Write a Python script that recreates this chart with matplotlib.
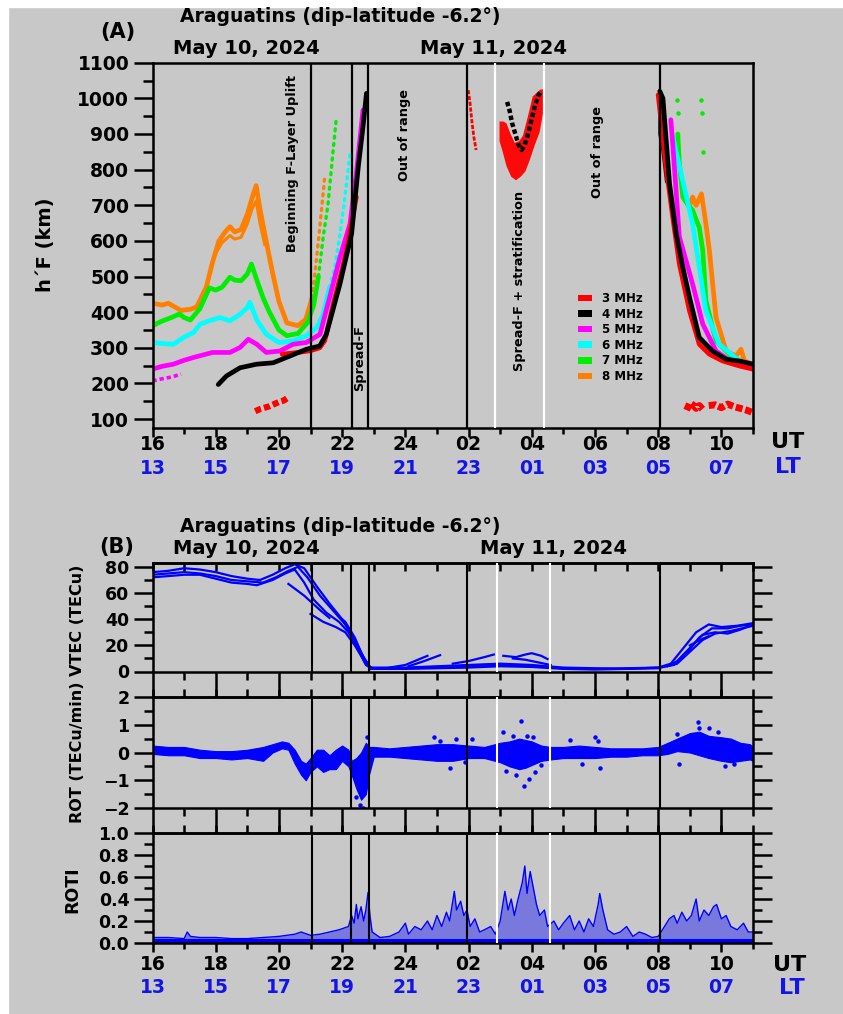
import matplotlib
matplotlib.use('Agg')
import matplotlib.pyplot as plt
from matplotlib.ticker import MultipleLocator, FixedLocator
from matplotlib.patches import Patch, Rectangle

plt.rcParams['font.family'] = ['DejaVu Sans']
plt.rcParams['font.weight'] = 'bold'
plt.rcParams['axes.labelweight'] = 'bold'

W, H = 843, 1014
BG = '#c8c8c8'
LTC = '#1414e8'

# ---------------- data: panel A (h'F, km) ----------------
freq_labels = ['3 MHz', '4 MHz', '5 MHz', '6 MHz', '7 MHz', '8 MHz']
freq_colors = ['#ff0000', '#000000', '#ff00ff', '#00ffff', '#00ee00', '#ff8000']

f8_t = [16.0, 16.3, 16.5, 16.7, 16.9, 17.2, 17.4, 17.7, 17.9, 18.1, 18.3, 18.45, 18.6, 18.8, 19.0, 19.15, 19.28, 19.4, 19.55, 19.8, 20.0, 20.25, 20.6, 20.85, 21.05]
f8_v = [425, 420, 425, 415, 405, 408, 415, 470, 540, 600, 625, 640, 625, 632, 675, 720, 755, 690, 620, 510, 430, 370, 362, 380, 440]
f8b_t = [18.0, 18.2, 18.45, 18.6, 18.8, 19.0, 19.15, 19.28, 19.4, 19.55]
f8b_v = [565, 595, 615, 605, 610, 648, 690, 712, 650, 590]
f8s_t = [21.05, 21.15, 21.25, 21.35, 21.45]
f8s_v = [440, 520, 600, 690, 780]

f7_t = [16.0, 16.3, 16.6, 16.85, 17.0, 17.2, 17.5, 17.8, 18.0, 18.2, 18.45, 18.6, 18.8, 19.0, 19.13, 19.3, 19.5, 19.7, 20.0, 20.25, 20.6, 20.9, 21.1, 21.25]
f7_v = [362, 375, 385, 395, 385, 378, 410, 468, 462, 470, 498, 490, 488, 507, 535, 490, 440, 400, 350, 334, 340, 370, 420, 500]
f7s_t = [21.25, 21.4, 21.55, 21.7, 21.82]
f7s_v = [500, 610, 700, 840, 948]

f6_t = [16.0, 16.3, 16.66, 17.0, 17.3, 17.5, 17.8, 18.13, 18.45, 18.77, 19.0, 19.08, 19.3, 19.6, 20.0, 20.45, 20.87, 21.2, 21.4, 21.6]
f6_v = [315, 312, 310, 330, 343, 366, 376, 385, 376, 394, 413, 428, 378, 338, 315, 319, 334, 357, 394, 470]
f6s_t = [21.6, 21.75, 21.9, 22.05, 22.25]
f6s_v = [470, 520, 600, 695, 845]

f5_t = [16.0, 16.3, 16.66, 17.0, 17.3, 17.9, 18.45, 18.77, 19.03, 19.3, 19.6, 20.03, 20.45, 20.87, 21.3, 21.6, 21.93, 22.25, 22.45, 22.66]
f5_v = [240, 248, 254, 265, 273, 287, 287, 301, 324, 310, 287, 291, 310, 315, 338, 440, 554, 648, 789, 967]
f5b_t = [16.0, 16.3, 16.6, 16.9]
f5b_v = [207, 213, 218, 226]

f4_t = [18.08, 18.34, 18.77, 19.29, 19.82, 20.35, 20.87, 21.29, 21.5, 21.93, 22.3, 22.51, 22.66, 22.77]
f4_v = [197, 221, 244, 254, 258, 277, 296, 305, 338, 479, 620, 807, 920, 1014]

f3_t = [20.1, 20.6, 21.0, 21.29, 21.45, 21.72, 22.0, 22.14, 22.3, 22.45]
f3_v = [282, 287, 292, 300, 320, 423, 520, 573, 650, 723]
f3low_t = [19.25, 19.4, 19.55, 19.7, 19.85, 20.0, 20.15, 20.25]
f3low_v = [122, 128, 132, 136, 142, 148, 152, 158]
f3n_t = [25.99, 26.05, 26.1, 26.17, 26.24]
f3n_v = [1023, 985, 940, 890, 855]

# spread-F cloud (3 MHz outline) and 4 MHz echoes inside it
cloud_t = [26.98, 27.1, 27.2, 27.33, 27.46, 27.6, 27.72, 27.88, 28.03, 28.15, 28.28, 28.36, 28.36, 28.25, 28.1, 27.95, 27.8, 27.65, 27.5, 27.35, 27.2, 27.08, 26.98]
cloud_v = [935, 935, 930, 900, 875, 880, 895, 950, 1005, 1015, 1025, 1025, 960, 905, 870, 830, 795, 780, 770, 780, 810, 850, 880]
cloud4_t = [27.22, 27.3, 27.38, 27.48, 27.58, 27.68, 27.78, 27.9, 28.02, 28.12, 28.22, 28.3]
cloud4_v = [990, 965, 930, 900, 870, 855, 870, 905, 950, 985, 1010, 1020]

# morning (after 08 UT)
m3_t = [32.0, 32.1, 32.25, 32.46, 32.67, 32.99, 33.3, 33.62, 34.04, 34.57, 35.0]
m3_v = [1010, 930, 807, 667, 535, 404, 310, 282, 263, 249, 240]
m4_t = [32.05, 32.15, 32.36, 32.57, 32.78, 32.99, 33.3, 33.72, 34.15, 34.57, 35.0]
m4_v = [1020, 1000, 760, 620, 526, 442, 329, 291, 268, 263, 254]
m5_t = [32.4, 32.46, 32.67, 33.09, 33.41, 33.83, 34.36, 35.0]
m5_v = [940, 873, 611, 479, 367, 291, 258, 249]
m6_t = [32.46, 32.8, 33.09, 33.3, 33.51, 33.93, 34.57, 35.0]
m6_v = [892, 760, 648, 526, 404, 310, 263, 244]
m7_t = [32.62, 32.67, 32.78, 32.95, 33.09, 33.2, 33.3, 33.41, 33.51, 33.83, 34.25, 35.0]
m7_v = [900, 817, 723, 700, 686, 660, 638, 573, 432, 319, 282, 240]
m8_t = [33.0, 33.09, 33.2, 33.37, 33.51, 33.62, 33.83, 34.15, 34.46, 34.62, 34.73, 35.0]
m8_v = [700, 723, 700, 732, 648, 573, 385, 291, 277, 296, 263, 254]
msp_t = [32.0, 32.12, 32.25, 32.32, 32.22, 32.1, 32.0]
msp_v = [1020, 1020, 900, 780, 760, 850, 900]
mr1_t = [32.9, 33.0, 33.1, 33.2, 33.3, 33.4]
mr1_v = [125, 145, 140, 130, 138, 128]
mr2_t = [33.6, 33.8, 34.0, 34.2, 34.4, 34.6, 34.8, 35.0]
mr2_v = [138, 140, 132, 142, 135, 130, 125, 118]
gdot_t = [32.6, 32.62, 33.37, 33.38, 33.42]
gdot_v = [995, 960, 995, 960, 850]

eventsA_black = [21.0, 22.3, 22.83, 25.94, 32.05]
eventsA_white = [26.83, 28.4]
eventsB_black = [21.05, 22.27, 22.86, 25.95, 32.05]
eventsB_white = [26.9, 28.58]

ut_ticks = [16, 18, 20, 22, 24, 26, 28, 30, 32, 34]
ut_labels = ['16', '18', '20', '22', '24', '02', '04', '06', '08', '10']
lt_labels = ['13', '15', '17', '19', '21', '23', '01', '03', '05', '07']

# ---------------- data: panel B ----------------
vtec_lines = [
    ([16.0, 16.5, 17.0, 17.5, 18.0, 18.5, 19.0, 19.4, 19.8, 20.2, 20.5, 20.8, 21.2, 21.6, 22.0, 22.3, 22.6, 22.85, 23.0, 24.0, 25.0, 26.0, 27.0, 28.0, 29.0, 30.0, 31.0, 32.0, 32.4, 32.8, 33.2, 33.6, 34.0, 34.5, 35.0],
     [76, 77, 79, 78, 76, 73, 71, 70, 74, 79, 82, 79, 65, 52, 40, 28, 14, 4, 2, 2.5, 3, 4, 5, 4, 2.5, 2, 2.5, 3, 6, 18, 30, 36, 34, 35, 37]),
    ([16.0, 16.5, 17.0, 17.5, 18.0, 18.5, 19.0, 19.5, 19.9, 20.3, 20.6, 20.9, 21.3, 21.7, 22.1, 22.4, 22.7, 22.9, 24.0, 25.0, 26.0, 27.0, 28.0, 29.0, 30.0, 31.0, 32.0, 32.5, 32.9, 33.3, 33.7, 34.2, 34.6, 35.0],
     [74, 75, 76, 75, 73, 70, 69, 68, 72, 77, 80, 72, 58, 47, 36, 24, 10, 3, 3, 4, 5, 6, 5, 3, 2.5, 2, 3, 5, 14, 26, 33, 33, 35, 36]),
    ([16.0, 16.5, 17.0, 17.5, 18.0, 18.5, 19.0, 19.3, 19.8, 20.2, 20.5, 20.8, 21.1, 21.5, 21.9, 22.2, 22.5, 22.75, 22.95, 24.0, 25.0, 26.0, 27.0, 28.0, 29.0, 30.0, 31.0, 32.0, 32.6, 33.0, 33.4, 33.8, 34.3, 35.0],
     [72, 73, 74, 74, 71, 68, 67, 66, 70, 75, 78, 68, 55, 45, 38, 30, 17, 5, 2, 2, 2.5, 3, 4, 3.5, 2, 1.5, 2, 2.5, 6, 15, 24, 29, 31, 35]),
    ([20.3, 20.8, 21.3, 21.6], [67, 58, 47, 41]),
    ([21.0, 21.4, 21.8, 22.1, 22.4, 22.7, 22.9], [44, 38, 34, 30, 20, 8, 2]),
    ([21.9, 22.1, 22.4, 22.65, 22.85], [42, 38, 26, 12, 4]),
    ([23.5, 24.0, 24.4, 24.7], [3, 5, 9, 12]),
    ([24.1, 24.6, 25.1], [4, 8, 12.5]),
    ([25.5, 26.0, 26.5, 26.8], [6, 8, 11, 13]),
    ([27.1, 27.5, 27.8, 28.0, 28.3, 28.5], [12, 11, 13, 14, 12, 9.5]),
    ([27.4, 27.8, 28.2, 28.6], [10, 9, 7, 5]),
    ([32.3, 32.6, 33.0, 33.4, 33.8, 34.2, 34.6, 35.0], [4, 8, 18, 28, 30, 29, 32, 36]),
    ([33.0, 33.4, 33.6], [20, 25, 27]),
]

rot_t = [16.0, 16.5, 17.0, 17.5, 18.0, 18.5, 19.0, 19.5, 19.8, 20.1, 20.3, 20.5, 20.7, 20.85, 21.0, 21.2, 21.4, 21.6, 21.8, 22.0, 22.2, 22.3, 22.45, 22.6, 22.75, 22.85, 23.0,
         23.5, 24.0, 24.5, 25.0, 25.5, 26.0, 26.5, 27.0, 27.3, 27.6, 27.8, 28.0, 28.3, 28.6, 29.0, 29.5, 30.0, 30.5, 31.0, 31.5, 32.0, 32.3, 32.6, 33.0, 33.3, 33.6, 34.0, 34.3, 34.6, 34.9, 35.0]
rot_hi = [0.25, 0.2, 0.2, 0.1, 0.05, 0.05, 0.1, 0.2, 0.3, 0.4, 0.35, 0.1, -0.3, -0.4, -0.2, 0.1, 0.1, -0.1, 0.1, 0.25, 0.1, -0.3, -0.2, 0.0, 0.35, 0.2, 0.2,
          0.15, 0.2, 0.25, 0.3, 0.3, 0.25, 0.2, 0.35, 0.4, 0.5, 0.45, 0.4, 0.25, 0.2, 0.2, 0.25, 0.2, 0.15, 0.15, 0.15, 0.2, 0.35, 0.5, 0.7, 0.75, 0.6, 0.55, 0.5, 0.35, 0.3, 0.2]
rot_lo = [-0.05, -0.1, -0.1, -0.2, -0.2, -0.25, -0.2, -0.3, 0.0, 0.15, 0.1, -0.4, -0.8, -1.0, -0.7, -0.5, -0.7, -0.6, -0.6, -0.3, -0.5, -0.8, -1.3, -1.7, -1.5, -0.8, -0.15,
          -0.15, -0.2, -0.25, -0.3, -0.3, -0.2, -0.2, -0.35, -0.5, -0.6, -0.55, -0.45, -0.3, -0.25, -0.2, -0.2, -0.2, -0.15, -0.15, -0.1, -0.1, -0.05, 0.05, 0.0, -0.1, -0.2, -0.3, -0.35, -0.3, -0.25, -0.3]
rot_dot_t = [22.45, 22.55, 22.65, 22.8, 24.9, 25.1, 25.4, 25.6, 25.9, 26.1, 27.1, 27.2, 27.4, 27.5, 27.65, 27.75, 27.85, 27.9, 28.05, 28.1, 28.3, 29.2, 29.6, 30.0, 30.1, 30.15, 32.6, 32.65, 33.25, 33.3, 33.6, 33.9, 34.1, 34.4]
rot_dot_v = [-1.6, -1.9, -2.0, 0.55, 0.55, 0.4, -0.55, 0.5, -0.35, 0.5, 0.75, -0.65, 0.6, -0.8, 1.15, -1.2, 0.6, -0.95, 0.55, -0.7, -0.45, 0.45, -0.4, 0.55, 0.4, -0.55, 0.65, -0.4, 1.1, 0.9, 0.9, 0.75, -0.5, -0.4]

roti_t = [16.0, 16.5, 17.0, 17.1, 17.2, 17.5, 18.0, 18.5, 19.0, 19.5, 20.0, 20.5, 20.7, 21.0, 21.3, 21.6, 21.9, 22.1,
          22.2, 22.3, 22.38, 22.45, 22.5, 22.6, 22.68, 22.75, 22.82, 22.88, 22.95,
          23.2, 23.5, 23.8, 24.0, 24.1, 24.3, 24.5, 24.7, 24.85, 25.0, 25.15, 25.3, 25.4, 25.55, 25.62, 25.75, 25.85, 25.95, 26.05, 26.2, 26.35, 26.5, 26.7, 26.85,
          27.0, 27.15, 27.25, 27.35, 27.45, 27.55, 27.7, 27.78, 27.85, 27.95, 28.05, 28.15, 28.25, 28.4, 28.5, 28.7, 28.85, 29.0, 29.2, 29.35, 29.5, 29.65, 29.8, 29.95,
          30.1, 30.15, 30.25, 30.4, 30.6, 30.8, 31.0, 31.2, 31.4, 31.6, 31.8, 32.0, 32.2, 32.35, 32.5, 32.6, 32.75, 32.9, 33.05, 33.2, 33.3, 33.45, 33.6, 33.75, 33.85,
          34.0, 34.15, 34.3, 34.5, 34.7, 34.85, 35.0]
roti_v = [0.05, 0.05, 0.04, 0.1, 0.06, 0.05, 0.05, 0.04, 0.04, 0.05, 0.06, 0.08, 0.1, 0.07, 0.08, 0.1, 0.12, 0.14,
          0.15, 0.25, 0.18, 0.35, 0.22, 0.33, 0.2, 0.3, 0.46, 0.25, 0.1,
          0.05, 0.06, 0.1, 0.18, 0.08, 0.15, 0.12, 0.2, 0.12, 0.25, 0.15, 0.28, 0.2, 0.47, 0.3, 0.38, 0.25, 0.3, 0.15, 0.22, 0.1, 0.12, 0.15, 0.08,
          0.2, 0.47, 0.3, 0.4, 0.25, 0.38, 0.55, 0.7, 0.45, 0.65, 0.5, 0.35, 0.25, 0.3, 0.15, 0.2, 0.12, 0.18, 0.25, 0.12, 0.2, 0.1, 0.22, 0.15,
          0.35, 0.45, 0.3, 0.12, 0.08, 0.1, 0.15, 0.06, 0.1, 0.08, 0.05, 0.06, 0.15, 0.22, 0.25, 0.18, 0.28, 0.2, 0.25, 0.4, 0.2, 0.3, 0.25, 0.33, 0.35,
          0.22, 0.25, 0.15, 0.12, 0.18, 0.1, 0.1]

# ---------------- figure ----------------
fig = plt.figure(figsize=(W / 100, H / 100), dpi=100, facecolor=BG)
fig.patches.append(Rectangle((0, 1 - 7 / H), 1, 7 / H, transform=fig.transFigure, color='white', zorder=0))
fig.patches.append(Rectangle((0, 0), 8 / W, 1, transform=fig.transFigure, color='white', zorder=0))


def box(x0, ytop, x1, ybot):
    return [x0 / W, 1 - ybot / H, (x1 - x0) / W, (ybot - ytop) / H]


def ftext(x, y, s, **kw):
    kw.setdefault('ha', 'center')
    kw.setdefault('va', 'center')
    fig.text(x / W, 1 - y / H, s, **kw)


def time_labels(ax, ut_off, lt_off):
    for t, u, l in zip(ut_ticks, ut_labels, lt_labels):
        ax.annotate(u, xy=(t, 0), xycoords=('data', 'axes fraction'), xytext=(0, -ut_off),
                    textcoords='offset points', ha='center', va='center', fontsize=13.5,
                    color='black', fontweight='bold', annotation_clip=False)
        ax.annotate(l, xy=(t, 0), xycoords=('data', 'axes fraction'), xytext=(0, -lt_off),
                    textcoords='offset points', ha='center', va='center', fontsize=13.5,
                    color=LTC, fontweight='bold', annotation_clip=False)


SPW = 1.8
XL, XR = 152.5, 753

# ----- Panel A -----
axA = fig.add_axes(box(XL, 62.7, XR, 428))
axA.set_facecolor(BG)
axA.set_xlim(16, 35)
axA.set_ylim(75, 1100)
for s in axA.spines.values():
    s.set_linewidth(SPW)
axA.yaxis.set_major_locator(FixedLocator(list(range(100, 1101, 100))))
axA.yaxis.set_minor_locator(MultipleLocator(50))
axA.xaxis.set_major_locator(FixedLocator(ut_ticks))
axA.xaxis.set_minor_locator(MultipleLocator(1))
axA.tick_params(axis='y', which='major', direction='out', length=13.7, width=SPW, labelsize=13.5, pad=3)
axA.tick_params(axis='y', which='minor', direction='out', length=7.2, width=SPW)
axA.tick_params(axis='x', which='major', direction='out', length=6.5, width=SPW, labelbottom=False)
axA.tick_params(axis='x', which='minor', direction='out', length=4.0, width=SPW)
for lab in axA.get_yticklabels():
    lab.set_fontweight('bold')
time_labels(axA, 11.8, 29.5)
ftext(46, 245, 'h\u00b4F (km)', fontsize=14, fontweight='bold', rotation=90)

c3, c4, c5, c6, c7, c8 = freq_colors
dense = dict(lw=3.4, solid_capstyle='round', solid_joinstyle='round')
sparse = dict(lw=2.4, linestyle=(0, (0.6, 1.6)), dash_capstyle='round')

axA.plot(f8_t, f8_v, color=c8, **dense)
axA.plot(f8b_t, f8b_v, color=c8, lw=2.2)
axA.plot(f8s_t, f8s_v, color=c8, **sparse)
axA.plot(f7_t, f7_v, color=c7, **dense)
axA.plot(f7s_t, f7s_v, color=c7, **sparse)
axA.plot(f6_t, f6_v, color=c6, **dense)
axA.plot(f6s_t, f6s_v, color=c6, **sparse)
axA.plot(f5_t, f5_v, color=c5, **dense)
axA.plot(f5b_t, f5b_v, color=c5, lw=2.6, linestyle=(0, (1.2, 0.8)))
axA.plot(f3_t, f3_v, color=c3, **dense)
axA.plot(f4_t, f4_v, color=c4, **dense)
axA.plot(f3low_t, f3low_v, color=c3, lw=4.5, linestyle=(0, (1.0, 0.5)))
axA.plot(f3n_t, f3n_v, color=c3, lw=2.0, linestyle=(0, (1.5, 0.6)))

axA.fill(cloud_t, cloud_v, color=c3, alpha=0.95, lw=0)
axA.plot(cloud4_t, cloud4_v, color=c4, lw=3.2, linestyle=(0, (1.0, 0.6)))

axA.fill(msp_t, msp_v, color=c4, alpha=0.85, lw=0)
axA.plot(m8_t, m8_v, color=c8, **dense)
axA.plot(m7_t, m7_v, color=c7, **dense)
axA.plot(m6_t, m6_v, color=c6, **dense)
axA.plot(m5_t, m5_v, color=c5, **dense)
axA.plot(m3_t, m3_v, color=c3, **dense)
axA.plot(m4_t, m4_v, color=c4, **dense)
axA.plot(mr1_t, mr1_v, color=c3, lw=5, linestyle=(0, (1.0, 0.4)))
axA.plot(mr2_t, mr2_v, color=c3, lw=5, linestyle=(0, (1.0, 0.4)))
axA.plot(gdot_t, gdot_v, 'o', color=c7, ms=2.2, ls='none')

for x in eventsA_black:
    axA.axvline(x, color='black', lw=1.6, zorder=5)
for x in eventsA_white:
    axA.axvline(x, color='white', lw=1.6, zorder=5)

txtkw = dict(rotation=90, ha='center', va='center', fontsize=9.3, fontweight='bold', zorder=6)
axA.text(20.44, 818, 'Beginning F-Layer Uplift', **txtkw)
axA.text(22.56, 271, 'Spread-F', **txtkw)
axA.text(23.98, 896, 'Out of range', **txtkw)
axA.text(27.62, 488, 'Spread-F + stratification', **txtkw)
axA.text(30.08, 849, 'Out of range', **txtkw)

handles = [Patch(facecolor=c, edgecolor='none') for c in freq_colors]
leg = axA.legend(handles, freq_labels, loc='upper left', bbox_to_anchor=(0.708, 0.372),
                 frameon=False, fontsize=8.5, handlelength=1.25, handleheight=0.5,
                 handletextpad=0.8, labelspacing=0.22, borderpad=0, borderaxespad=0)
for t in leg.get_texts():
    t.set_fontweight('bold')

ftext(340, 16, 'Araguatins (dip-latitude -6.2\u00b0)', fontsize=13.5, fontweight='bold')
ftext(118, 32, '(A)', fontsize=15, fontweight='bold')
ftext(246, 49, 'May 10, 2024', fontsize=14, fontweight='bold')
ftext(493, 49, 'May 11, 2024', fontsize=14, fontweight='bold')
ftext(788, 442, 'UT', fontsize=16, fontweight='bold')
ftext(788, 467, 'LT', fontsize=16, fontweight='bold', color=LTC)

# ----- Panel B -----
axV = fig.add_axes(box(XL, 563, XR, 671.5))
axR = fig.add_axes(box(XL, 697, XR, 808))
axI = fig.add_axes(box(XL, 833, XR, 943))

for ax in (axV, axR, axI):
    ax.set_facecolor(BG)
    ax.set_xlim(16, 35)
    for s in ax.spines.values():
        s.set_linewidth(SPW)
    ax.xaxis.set_major_locator(FixedLocator(ut_ticks))
    ax.xaxis.set_minor_locator(MultipleLocator(1))
    ax.tick_params(axis='y', which='major', direction='out', length=13.7, width=SPW,
                   left=True, right=True, labelsize=12.5, pad=3)
    ax.tick_params(axis='y', which='minor', direction='out', length=6.8, width=SPW,
                   left=True, right=True)
    for x in eventsB_black:
        ax.axvline(x, color='black', lw=1.5, zorder=5)
    for x in eventsB_white:
        ax.axvline(x, color='white', lw=1.5, zorder=5)

axV.set_ylim(0, 83)
axV.yaxis.set_major_locator(FixedLocator([0, 20, 40, 60, 80]))
axV.yaxis.set_minor_locator(MultipleLocator(10))
axV.tick_params(axis='x', which='major', direction='out', length=18.4, width=SPW, labelbottom=False)
axV.tick_params(axis='x', which='minor', direction='out', length=5.8, width=SPW)
secV = axV.secondary_xaxis('top')
secV.xaxis.set_major_locator(FixedLocator(ut_ticks))
secV.xaxis.set_minor_locator(MultipleLocator(1))
secV.tick_params(axis='x', which='both', direction='in', length=5.5, width=SPW, labeltop=False)
secV.spines['top'].set_linewidth(SPW)

axR.set_ylim(-2, 2)
axR.yaxis.set_major_locator(FixedLocator([-2, -1, 0, 1, 2]))
axR.yaxis.set_minor_locator(MultipleLocator(0.5))
axR.tick_params(axis='x', which='major', direction='out', length=18.0, width=SPW, labelbottom=False)
axR.tick_params(axis='x', which='minor', direction='out', length=5.8, width=SPW)
secR = axR.secondary_xaxis('top')
secR.xaxis.set_major_locator(FixedLocator(ut_ticks))
secR.xaxis.set_minor_locator(MultipleLocator(1))
secR.tick_params(axis='x', which='both', direction='out', length=5.8, width=SPW, labeltop=False)
secR.spines['top'].set_linewidth(SPW)

axI.set_ylim(0, 1)
axI.yaxis.set_major_locator(FixedLocator([0, 0.2, 0.4, 0.6, 0.8, 1.0]))
axI.yaxis.set_minor_locator(MultipleLocator(0.1))
axI.set_yticklabels(['0.0', '0.2', '0.4', '0.6', '0.8', '1.0'])
axI.tick_params(axis='x', which='major', direction='out', length=6.5, width=SPW, labelbottom=False)
axI.tick_params(axis='x', which='minor', direction='out', length=4.0, width=SPW)
secI = axI.secondary_xaxis('top')
secI.xaxis.set_major_locator(FixedLocator(ut_ticks))
secI.xaxis.set_minor_locator(MultipleLocator(1))
secI.tick_params(axis='x', which='both', direction='out', length=5.8, width=SPW, labeltop=False)
secI.spines['top'].set_linewidth(SPW)

for ax in (axV, axR, axI):
    for lab in ax.get_yticklabels():
        lab.set_fontweight('bold')

time_labels(axI, 15.5, 32.0)

BL = '#0000ff'
for tt, vv in vtec_lines:
    axV.plot(tt, vv, color=BL, lw=1.6)
axR.fill_between(rot_t, rot_lo, rot_hi, color=BL, lw=0.8, edgecolor=BL)
axR.plot(rot_dot_t, rot_dot_v, 'o', color=BL, ms=2.2, ls='none')
axI.fill_between(roti_t, 0, roti_v, color=BL, alpha=0.4, lw=0)
axI.plot(roti_t, roti_v, color=BL, lw=1.0)
axI.fill_between([16, 35], 0, [0.04, 0.04], color=BL, lw=0)

ftext(77, 620, 'VTEC (TECu)', fontsize=11.5, fontweight='bold', rotation=90)
ftext(77, 752, 'ROT (TECu/min)', fontsize=11.5, fontweight='bold', rotation=90)
ftext(72, 890, 'ROTI', fontsize=12.5, fontweight='bold', rotation=90)

ftext(340, 526, 'Araguatins (dip-latitude -6.2\u00b0)', fontsize=13.5, fontweight='bold')
ftext(117, 547, '(B)', fontsize=15, fontweight='bold')
ftext(246, 549, 'May 10, 2024', fontsize=14, fontweight='bold')
ftext(553, 549, 'May 11, 2024', fontsize=14, fontweight='bold')
ftext(790, 965, 'UT', fontsize=16, fontweight='bold')
ftext(792, 988, 'LT', fontsize=16, fontweight='bold', color=LTC)

fig.savefig('out.png', dpi=100, facecolor=fig.get_facecolor())
